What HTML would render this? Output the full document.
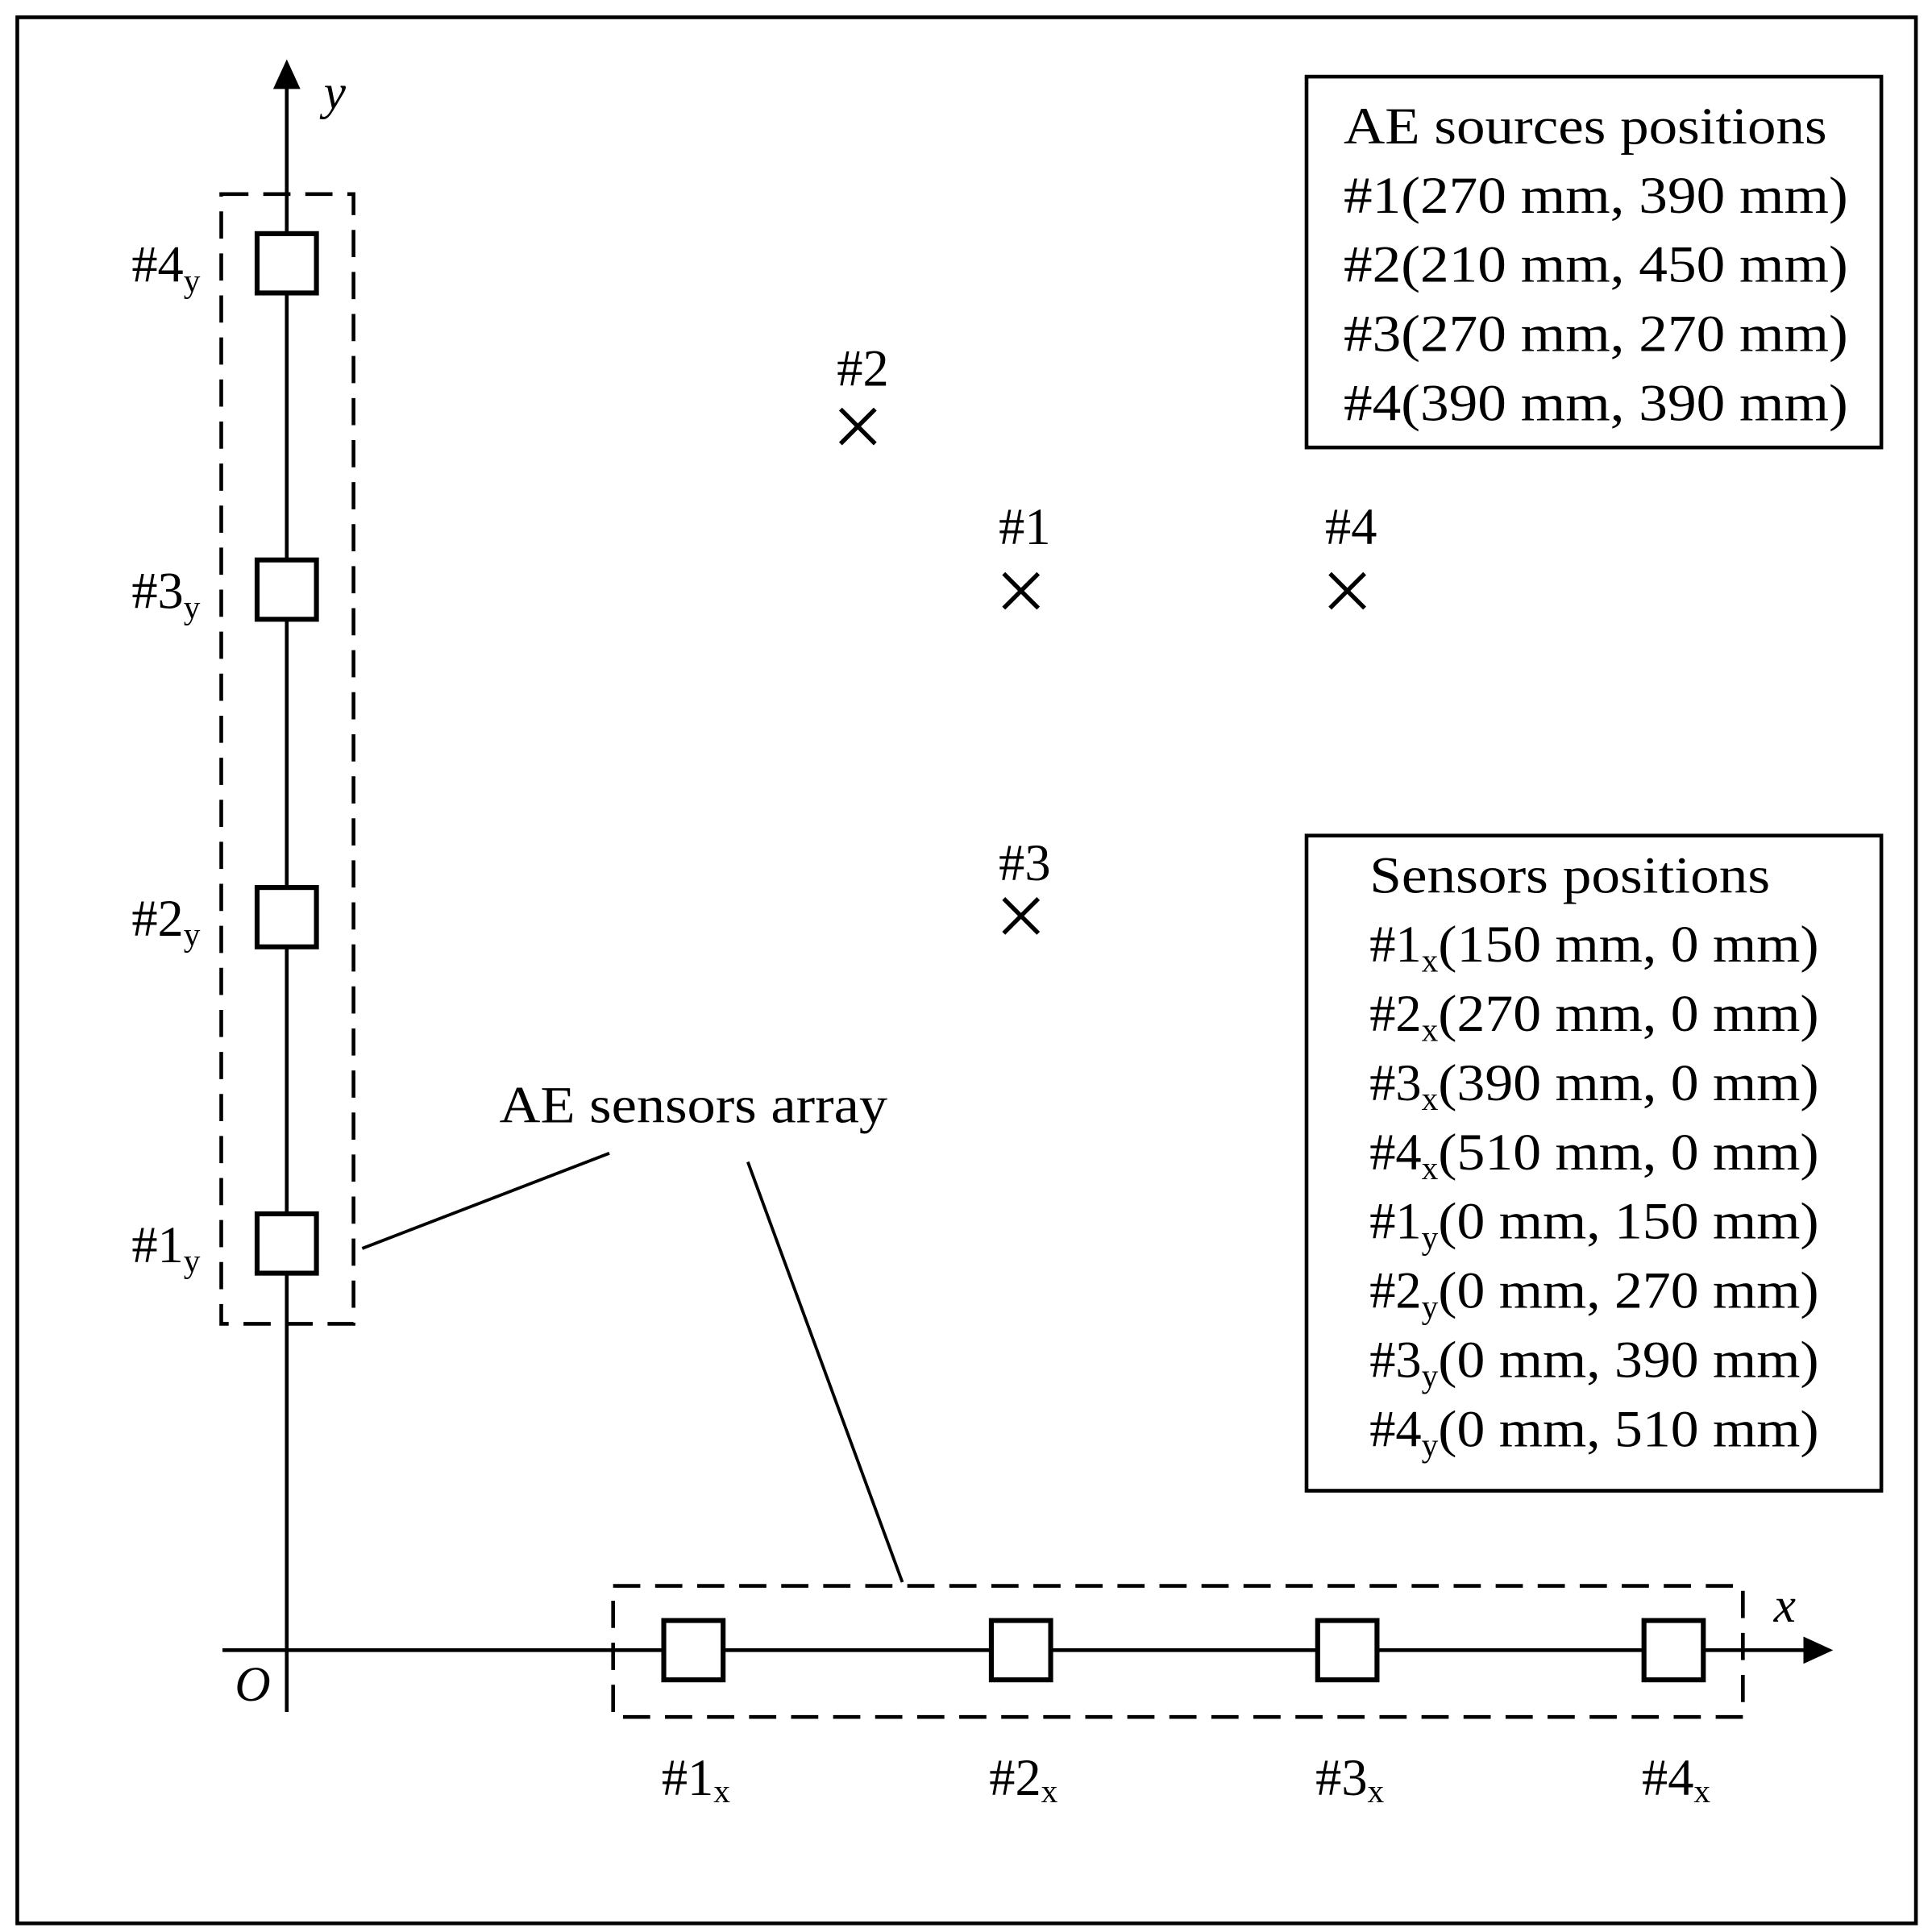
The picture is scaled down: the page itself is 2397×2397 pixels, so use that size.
<!DOCTYPE html>
<html><head><meta charset="utf-8"><style>
html,body{margin:0;padding:0;background:#fff}
svg{display:block}
text{font-family:"Liberation Serif",serif;fill:#000}
</style></head><body>
<svg width="2397" height="2397" viewBox="0 0 1563 1563" xmlns="http://www.w3.org/2000/svg">
<rect x="14" y="14" width="1536" height="1542" fill="#fff" stroke="#000" stroke-width="3"/>
<line x1="232" y1="68" x2="232" y2="1385" stroke="#000" stroke-width="3"/>
<polygon points="232,48 221,72 243,72" fill="#000"/>
<line x1="180" y1="1335" x2="1462" y2="1335" stroke="#000" stroke-width="3"/>
<polygon points="1483,1335 1459,1324 1459,1346" fill="#000"/>
<text x="262" y="88" font-size="40" font-style="italic">y</text>
<text x="1435" y="1312" font-size="40" font-style="italic">x</text>
<text x="190" y="1376" font-size="40" font-style="italic">O</text>
<g fill="none" stroke="#000" stroke-width="3" stroke-dasharray="22,12">
<rect x="179" y="157" width="107" height="914"/>
<rect x="496" y="1283" width="914" height="106"/>
</g>
<g fill="#fff" stroke="#000" stroke-width="4">
<rect x="208" y="189" width="48" height="48"/>
<rect x="208" y="453" width="48" height="48"/>
<rect x="208" y="718" width="48" height="48"/>
<rect x="208" y="982" width="48" height="48"/>
<rect x="537" y="1311" width="48" height="48"/>
<rect x="802" y="1311" width="48" height="48"/>
<rect x="1066" y="1311" width="48" height="48"/>
<rect x="1330" y="1311" width="48" height="48"/>
</g>
<g font-size="42" text-anchor="end">
<text x="162" y="228">#4<tspan font-size="27" dy="8">y</tspan></text>
<text x="162" y="492">#3<tspan font-size="27" dy="8">y</tspan></text>
<text x="162" y="757">#2<tspan font-size="27" dy="8">y</tspan></text>
<text x="162" y="1021">#1<tspan font-size="27" dy="8">y</tspan></text>
</g>
<g font-size="42" text-anchor="middle">
<text x="563" y="1452">#1<tspan font-size="27" dy="6">x</tspan></text>
<text x="828" y="1452">#2<tspan font-size="27" dy="6">x</tspan></text>
<text x="1092" y="1452">#3<tspan font-size="27" dy="6">x</tspan></text>
<text x="1356" y="1452">#4<tspan font-size="27" dy="6">x</tspan></text>
</g>
<g stroke="#000" stroke-width="3.5">
<path d="M680,331 L708,359 M708,331 L680,359"/>
<path d="M812,464 L840,492 M840,464 L812,492"/>
<path d="M1076,464 L1104,492 M1104,464 L1076,492"/>
<path d="M812,727 L840,755 M840,727 L812,755"/>
</g>
<g font-size="42" text-anchor="middle">
<text x="698" y="312">#2</text>
<text x="829" y="440">#1</text>
<text x="1093" y="440">#4</text>
<text x="829" y="712">#3</text>
</g>
<text x="404" y="908" font-size="42" textLength="314" lengthAdjust="spacingAndGlyphs">AE sensors array</text>
<g stroke="#000" stroke-width="2.5">
<line x1="293" y1="1010" x2="493" y2="933"/>
<line x1="605" y1="940" x2="730" y2="1280"/>
</g>
<rect x="1057" y="62" width="465" height="300" fill="#fff" stroke="#000" stroke-width="3"/>
<g font-size="42" lengthAdjust="spacingAndGlyphs">
<text x="1087" y="116" textLength="391" lengthAdjust="spacingAndGlyphs">AE sources positions</text>
<text x="1087" y="172" textLength="408" lengthAdjust="spacingAndGlyphs">#1(270 mm, 390 mm)</text>
<text x="1087" y="228" textLength="408" lengthAdjust="spacingAndGlyphs">#2(210 mm, 450 mm)</text>
<text x="1087" y="284" textLength="408" lengthAdjust="spacingAndGlyphs">#3(270 mm, 270 mm)</text>
<text x="1087" y="340" textLength="408" lengthAdjust="spacingAndGlyphs">#4(390 mm, 390 mm)</text>
</g>
<rect x="1057" y="676" width="465" height="530" fill="#fff" stroke="#000" stroke-width="3"/>
<g font-size="42">
<text x="1108" y="722" textLength="324" lengthAdjust="spacingAndGlyphs">Sensors positions</text>
<text x="1108" y="778">#1<tspan font-size="27" dy="8">x</tspan><tspan dy="-8" textLength="308" lengthAdjust="spacingAndGlyphs">(150 mm, 0 mm)</tspan></text>
<text x="1108" y="834">#2<tspan font-size="27" dy="8">x</tspan><tspan dy="-8" textLength="308" lengthAdjust="spacingAndGlyphs">(270 mm, 0 mm)</tspan></text>
<text x="1108" y="890">#3<tspan font-size="27" dy="8">x</tspan><tspan dy="-8" textLength="308" lengthAdjust="spacingAndGlyphs">(390 mm, 0 mm)</tspan></text>
<text x="1108" y="946">#4<tspan font-size="27" dy="8">x</tspan><tspan dy="-8" textLength="308" lengthAdjust="spacingAndGlyphs">(510 mm, 0 mm)</tspan></text>
<text x="1108" y="1002">#1<tspan font-size="27" dy="8">y</tspan><tspan dy="-8" textLength="308" lengthAdjust="spacingAndGlyphs">(0 mm, 150 mm)</tspan></text>
<text x="1108" y="1058">#2<tspan font-size="27" dy="8">y</tspan><tspan dy="-8" textLength="308" lengthAdjust="spacingAndGlyphs">(0 mm, 270 mm)</tspan></text>
<text x="1108" y="1114">#3<tspan font-size="27" dy="8">y</tspan><tspan dy="-8" textLength="308" lengthAdjust="spacingAndGlyphs">(0 mm, 390 mm)</tspan></text>
<text x="1108" y="1170">#4<tspan font-size="27" dy="8">y</tspan><tspan dy="-8" textLength="308" lengthAdjust="spacingAndGlyphs">(0 mm, 510 mm)</tspan></text>
</g>
</svg>
</body></html>
